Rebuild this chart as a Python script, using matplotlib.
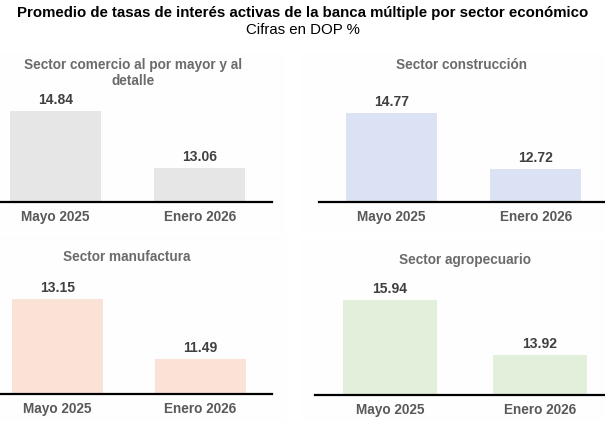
import matplotlib
matplotlib.use("Agg")
import matplotlib.pyplot as plt
from matplotlib.patches import Rectangle

plt.rcParams['font.family'] = ['Liberation Sans', 'DejaVu Sans']

W, H = 605, 421

categories = ["Mayo 2025", "Enero 2026"]
sectors = ["Sector comercio al por mayor y al\ndetalle", "Sector construcción",
           "Sector manufactura", "Sector agropecuario"]
comercio = [14.84, 13.06]
construccion = [14.77, 12.72]
manufactura = [13.15, 11.49]
agropecuario = [15.94, 13.92]
series = [comercio, construccion, manufactura, agropecuario]
colors = ["#E6E6E6", "#DAE2F4", "#FAE3D6", "#E2EFDA"]

title = "Promedio de tasas de interés activas de la banca múltiple por sector económico"
subtitle = "Cifras en DOP %"

# layout in pixels: left, right, top, bottom of axes; ylim; title pos
panels = [
    dict(l=-17, r=272, t=95, b=202, ylim=(11.98, 15.36), tx=133, ty=73),
    dict(l=319, r=608, t=95, b=202, ylim=(11.51, 15.43), tx=462, ty=65),
    dict(l=-14, r=272, t=287, b=394, ylim=(10.52, 13.48), tx=127, ty=257),
    dict(l=315, r=615, t=288, b=395, ylim=(12.45, 16.38), tx=465, ty=260),
]
bgs = [(0, 53, 285, 232), (300, 53, 605, 232), (0, 235, 287, 421), (300, 238, 605, 421)]

fig = plt.figure(figsize=(W / 100, H / 100), dpi=100)
fig.patch.set_facecolor("white")

for (x0, y0, x1, y1) in bgs:
    fig.patches.append(Rectangle((x0 / W, 1 - y1 / H), (x1 - x0) / W, (y1 - y0) / H,
                                 transform=fig.transFigure, facecolor="#FEFEFE",
                                 edgecolor="none", zorder=-5))

fig.text(0.5, 1 - 13 / H, title, ha="center", va="center", fontsize=10.85,
         fontweight="bold", color="black")
fig.text(0.5, 1 - 30 / H, subtitle, ha="center", va="center", fontsize=10.8,
         color="black")

for p, vals, col, name in zip(panels, series, colors, sectors):
    ax = fig.add_axes([p["l"] / W, 1 - p["b"] / H, (p["r"] - p["l"]) / W, (p["b"] - p["t"]) / H])
    ax.set_zorder(2)
    ax.patch.set_alpha(0)
    x = range(len(categories))
    ax.bar(x, vals, width=0.63, color=col, bottom=0, zorder=2)
    ax.set_xlim(-0.5, 1.5)
    ax.set_ylim(*p["ylim"])
    for i, v in enumerate(vals):
        ax.annotate(f"{v:.2f}", (i, v), xytext=(0, 3), textcoords="offset points",
                    ha="center", va="bottom", fontsize=10, fontweight="bold",
                    color="#404040")
    for s in ["top", "right", "left"]:
        ax.spines[s].set_visible(False)
    ax.spines["bottom"].set_linewidth(1.6)
    ax.spines["bottom"].set_color("black")
    ax.spines["bottom"].set_zorder(3)
    ax.set_yticks([])
    ax.set_xticks(list(x))
    ax.set_xticklabels(categories, fontsize=9.8, fontweight="bold", color="#595959")
    ax.tick_params(axis="x", length=0, pad=6)
    fig.text(p["tx"] / W, 1 - p["ty"] / H, name, ha="center", va="center",
             fontsize=9.8, fontweight="bold", color="#6B6B6B", linespacing=1.15)

fig.savefig("out.png", dpi=100, facecolor="white")
